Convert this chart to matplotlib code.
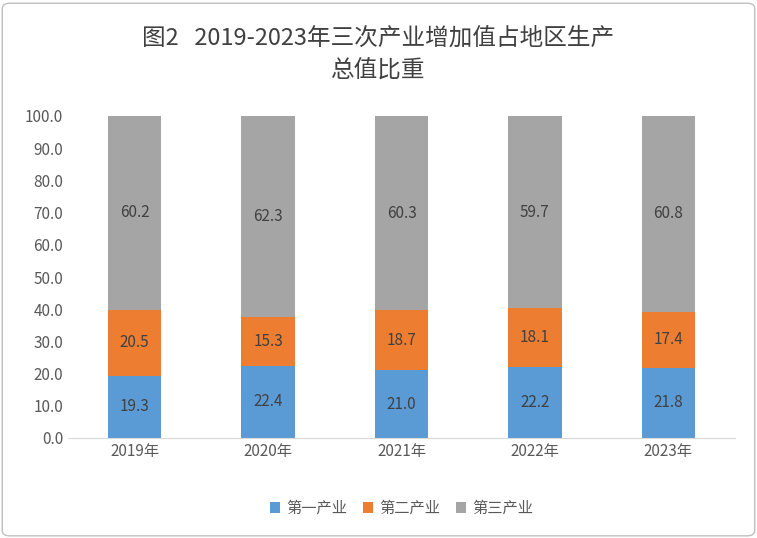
import matplotlib.pyplot as plt
import numpy as np
from matplotlib.patches import FancyBboxPatch

plt.rcParams['font.family'] = ['Noto Sans CJK SC', 'DejaVu Sans']

years = ["2019年", "2020年", "2021年", "2022年", "2023年"]
primary = [19.3, 22.4, 21.0, 22.2, 21.8]
secondary = [20.5, 15.3, 18.7, 18.1, 17.4]
tertiary = [60.2, 62.3, 60.3, 59.7, 60.8]
series_names = ["第一产业", "第二产业", "第三产业"]
colors = ["#5B9BD5", "#ED7D31", "#A5A5A5"]

fig = plt.figure(figsize=(7.57, 5.38), dpi=100)
ax = fig.add_axes([68 / 757, 100 / 538, 667 / 757, 322 / 538])

x = np.arange(len(years))
bottom = np.zeros(len(years))
for vals, name, c in zip([primary, secondary, tertiary], series_names, colors):
    ax.bar(x, vals, 0.4, bottom=bottom, color=c, label=name)
    for xi, b, v in zip(x, bottom, vals):
        ax.text(xi, b + v / 2, f"{v:.1f}", ha="center", va="center",
                fontsize=11, color="#404040")
    bottom += np.array(vals)

ax.set_xlim(-0.5, len(years) - 0.5)
ax.set_ylim(0, 100)
ax.set_yticks(np.arange(0, 101, 10))
ax.set_yticklabels([f"{v:.1f}" for v in np.arange(0, 101, 10)], fontsize=11, color="#595959")
ax.set_xticks(x)
ax.set_xticklabels(years, fontsize=11, color="#595959")
ax.tick_params(length=0)
for s in ["top", "right", "left"]:
    ax.spines[s].set_visible(False)
ax.spines["bottom"].set_color("#D9D9D9")

fig.text(0.5, 0.898, "图2   2019-2023年三次产业增加值占地区生产\n总值比重", ha="center",
         va="center", fontsize=17, color="#404040", linespacing=1.55)
ax.legend(loc="upper center", bbox_to_anchor=(0.5, -0.15), ncol=3, frameon=False,
          fontsize=11, handlelength=0.7, handleheight=0.7, columnspacing=1.0,
          handletextpad=0.4, labelcolor="#595959")

fig.patches.append(FancyBboxPatch((0.003, 0.004), 0.994, 0.99, boxstyle="round,pad=0,rounding_size=0.01",
                                  transform=fig.transFigure, fill=False, edgecolor="#BFBFBF", lw=1))
fig.savefig("out.png", dpi=100)
